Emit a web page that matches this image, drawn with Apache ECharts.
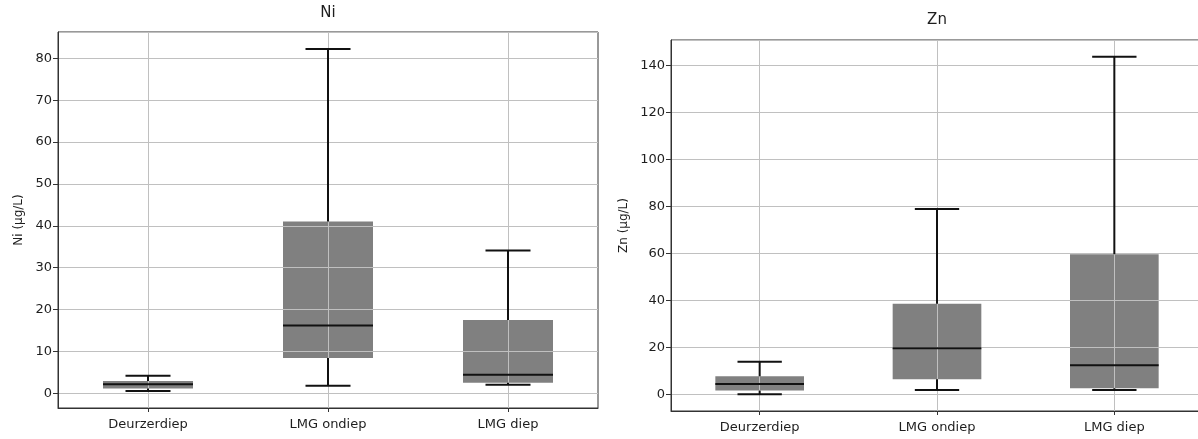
<!DOCTYPE html>
<html>
<head>
<meta charset="utf-8">
<script src="https://cdn.jsdelivr.net/npm/echarts@6/dist/echarts.min.js"></script>
<style>
html,body{margin:0;padding:0;background:#fff;}
#chart{width:1198px;height:439px;}
</style>
</head>
<body>
<div id="chart"></div>
<script>
// ---- data ----
const categories = ['Deurzerdiep', 'LMG ondiep', 'LMG diep'];

const niLow    = [0.55, 1.8, 2.0];
const niQ1     = [1.1, 8.4, 2.5];
const niMedian = [2.15, 16.2, 4.4];
const niQ3     = [2.9, 41.0, 17.5];
const niHigh   = [4.2, 82.2, 34.1];

const znLow    = [0.2, 2.0, 2.0];
const znQ1     = [1.7, 6.5, 2.7];
const znMedian = [4.5, 19.7, 12.5];
const znQ3     = [7.8, 38.6, 59.7];
const znHigh   = [14.0, 78.9, 143.6];

const niTitle = 'Ni', niYLabel = 'Ni (µg/L)';
const znTitle = 'Zn', znYLabel = 'Zn (µg/L)';

// ---- helpers ----
const FONT = 'DejaVu Sans';
const TXT = '#1e1e1e';
const GRIDC = '#c0c0c0';

function rows(low, q1, med, q3, high) {
  return categories.map((c, i) => [i, low[i], q1[i], med[i], q3[i], high[i]]);
}
function range(low, high) {
  const mn = Math.min(...low), mx = Math.max(...high);
  const m = (mx - mn) * 0.05;
  return [mn - m, mx + m];
}

function boxRender(params, api) {
  const x = api.value(0);
  const q1 = api.coord([x, api.value(2)]);
  const q3 = api.coord([x, api.value(4)]);
  const bw = api.size([1, 0])[0] * 0.5;
  return {
    type: 'rect',
    shape: { x: q1[0] - bw / 2, y: q3[1], width: bw, height: q1[1] - q3[1] },
    style: { fill: '#808080' }
  };
}
function lineRender(params, api) {
  const x = api.value(0);
  const lo = api.coord([x, api.value(1)]);
  const q1 = api.coord([x, api.value(2)]);
  const md = api.coord([x, api.value(3)]);
  const q3 = api.coord([x, api.value(4)]);
  const hi = api.coord([x, api.value(5)]);
  const bw = api.size([1, 0])[0] * 0.5;
  const cw = bw / 2;
  const cx = lo[0];
  const st = { stroke: '#111', lineWidth: 2 };
  const L = (x1, y1, x2, y2) => ({ type: 'line', shape: { x1, y1, x2, y2 }, style: st });
  return {
    type: 'group',
    children: [
      L(cx, q1[1], cx, lo[1]),
      L(cx, q3[1], cx, hi[1]),
      L(cx - cw / 2, lo[1], cx + cw / 2, lo[1]),
      L(cx - cw / 2, hi[1], cx + cw / 2, hi[1]),
      L(cx - bw / 2, md[1], cx + bw / 2, md[1])
    ]
  };
}

function xAxisCfg(gi) {
  return {
    type: 'category', gridIndex: gi, data: categories, z: 2,
    axisLine: { show: true, onZero: false, lineStyle: { color: '#333', width: 1 } },
    axisTick: { show: true, alignWithLabel: true, length: 4, lineStyle: { color: '#333' } },
    axisLabel: { color: TXT, fontFamily: FONT, fontSize: 13, margin: 10 },
    splitLine: { show: true, alignWithLabel: true, lineStyle: { color: GRIDC, width: 1 } }
  };
}
function yAxisCfg(gi, rng, split, name, gap) {
  return {
    type: 'value', gridIndex: gi, min: rng[0], max: rng[1], splitNumber: split, z: 2,
    name: name, nameLocation: 'middle', nameGap: gap,
    nameTextStyle: { color: TXT, fontFamily: FONT, fontSize: 12 },
    axisLine: { show: true, lineStyle: { color: '#333', width: 1 } },
    axisTick: { show: true, length: 5, lineStyle: { color: '#333' } },
    axisLabel: { color: TXT, fontFamily: FONT, fontSize: 13, margin: 6, showMinLabel: false, showMaxLabel: false },
    splitLine: { show: true, lineStyle: { color: GRIDC, width: 1 } }
  };
}

const niR = range(niLow, niHigh);
const znR = range(znLow, znHigh);
const niData = rows(niLow, niQ1, niMedian, niQ3, niHigh);
const znData = rows(znLow, znQ1, znMedian, znQ3, znHigh);

const chart = echarts.init(document.getElementById('chart'), null, { renderer: 'canvas' });
chart.setOption({
  animation: false,
  backgroundColor: '#fff',
  grid: [
    { left: 58, top: 32, width: 540, height: 376, show: true, borderColor: '#333', borderWidth: 1, backgroundColor: 'transparent', outerBoundsMode: 'none', containLabel: false },
    { left: 671, top: 40, width: 532, height: 371, show: true, borderColor: '#333', borderWidth: 1, backgroundColor: 'transparent', outerBoundsMode: 'none', containLabel: false }
  ],
  xAxis: [xAxisCfg(0), xAxisCfg(1)],
  yAxis: [yAxisCfg(0, niR, 9, niYLabel, 33), yAxisCfg(1, znR, 8, znYLabel, 41)],
  graphic: [
    { type: 'text', x: 328, y: 13, style: { text: niTitle, align: 'center', verticalAlign: 'middle', font: '15px "DejaVu Sans"', fill: TXT } },
    { type: 'text', x: 937, y: 20, style: { text: znTitle, align: 'center', verticalAlign: 'middle', font: '15px "DejaVu Sans"', fill: TXT } }
  ],
  series: [
    { type: 'custom', xAxisIndex: 0, yAxisIndex: 0, z: 1, renderItem: boxRender, data: niData, encode: { x: 0, y: [1, 2, 3, 4, 5] } },
    { type: 'custom', xAxisIndex: 0, yAxisIndex: 0, z: 3, renderItem: lineRender, data: niData, encode: { x: 0, y: [1, 2, 3, 4, 5] } },
    { type: 'custom', xAxisIndex: 1, yAxisIndex: 1, z: 1, renderItem: boxRender, data: znData, encode: { x: 0, y: [1, 2, 3, 4, 5] } },
    { type: 'custom', xAxisIndex: 1, yAxisIndex: 1, z: 3, renderItem: lineRender, data: znData, encode: { x: 0, y: [1, 2, 3, 4, 5] } }
  ]
});
</script>
</body>
</html>
